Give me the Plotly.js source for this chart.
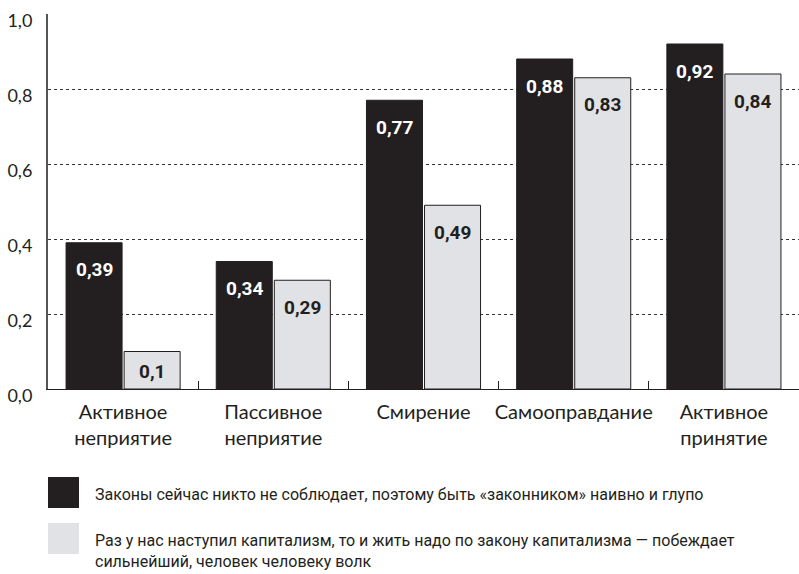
<!DOCTYPE html>
<html>
<head>
<meta charset="utf-8">
<script src="https://cdn.plot.ly/plotly-3.0.1.min.js"></script>
<style>html,body{margin:0;padding:0;background:#fff;}#chart{width:799px;height:574px;}</style>
</head>
<body>
<div id="chart"></div>
<script>
const categories = ["Активное<br>неприятие", "Пассивное<br>неприятие", "Смирение", "Самооправдание", "Активное<br>принятие"];
const seriesNames = [
  "Законы сейчас никто не соблюдает, поэтому быть «законником» наивно и глупо",
  "Раз у нас наступил капитализм, то и жить надо по закону капитализма — побеждает<br>сильнейший, человек человеку волк"
];
const lawlessValues = [0.39, 0.34, 0.77, 0.88, 0.92];
const capitalismValues = [0.10, 0.29, 0.49, 0.83, 0.84];
const yTickValues = [0, 0.2, 0.4, 0.6, 0.8, 1.0];
const yTickLabels = ["0,0", "0,2", "0,4", "0,6", "0,8", "1,0"];

const DARK = "#231f20";
const LIGHT = "#e1e2e5";
const narrow = "Roboto, sans-serif";
const humanist = "Lato, sans-serif";
const plotH = 375;
const fmt = v => String(Math.round(v * 100) / 100).replace(".", ",");

const traces = [
  {type: "bar", x: categories, y: lawlessValues, name: seriesNames[0],
   marker: {color: DARK, line: {color: DARK, width: 1}}, hoverinfo: "none"},
  {type: "bar", x: categories, y: capitalismValues, name: seriesNames[1],
   marker: {color: LIGHT, line: {color: DARK, width: 1}}, hoverinfo: "none"}
];

const annotations = [];
[lawlessValues, capitalismValues].forEach((vals, si) => {
  vals.forEach((v, i) => {
    annotations.push({
      x: categories[i], y: v, xref: "x", yref: "y",
      xshift: si === 0 ? -29 : 29,
      yshift: -Math.min(27, v * plotH / 2 + 1),
      text: "<b>" + fmt(v) + "</b>", showarrow: false,
      yanchor: "middle", xanchor: "center",
      font: {family: narrow, size: 19, weight: 700, color: si === 0 ? "#ffffff" : DARK}
    });
  });
});

// legend (drawn manually)
const legendRows = [
  {color: DARK, y0: -0.3173, y1: -0.2347, ty: -0.28},
  {color: LIGHT, y0: -0.44, y1: -0.3573, ty: -0.432}
];
const shapes = [];
legendRows.forEach((r, i) => {
  shapes.push({type: "rect", xref: "paper", yref: "paper", x0: 0, x1: 0.0413, y0: r.y0, y1: r.y1,
    fillcolor: r.color, line: {width: 0}});
  annotations.push({xref: "paper", yref: "paper", x: 0.0599, y: r.ty, xanchor: "left", yanchor: "middle",
    align: "left", showarrow: false, text: seriesNames[i],
    font: {family: narrow, size: 16, color: DARK}});
});

const layout = {
  width: 799, height: 574,
  margin: {l: 48, r: 0, t: 14, b: 185},
  paper_bgcolor: "#ffffff", plot_bgcolor: "#ffffff",
  showlegend: false,
  barmode: "group", bargap: 0.227, bargroupgap: 0.035,
  xaxis: {
    type: "category", showline: true, linecolor: DARK, linewidth: 1,
    ticks: "inside", ticklen: 8, tickcolor: DARK, tickwidth: 1, tickson: "boundaries",
    showgrid: false, zeroline: false, tickangle: 0, ticklabelstandoff: 5,
    tickfont: {family: humanist, size: 20, color: DARK},
    fixedrange: true
  },
  yaxis: {
    range: [0, 1], showline: true, linecolor: "#555555", linewidth: 2,
    tickvals: yTickValues, ticktext: yTickLabels, ticks: "",
    showgrid: true, gridcolor: "#333333", griddash: "dot", gridwidth: 1,
    zeroline: false, ticklabelstandoff: 10, ticklabelshift: 7, ticklabeloverflow: "allow",
    tickfont: {family: humanist, size: 18, color: DARK},
    fixedrange: true
  },
  shapes: shapes,
  annotations: annotations
};

Plotly.newPlot("chart", traces, layout, {displayModeBar: false, staticPlot: true});
</script>
</body>
</html>
